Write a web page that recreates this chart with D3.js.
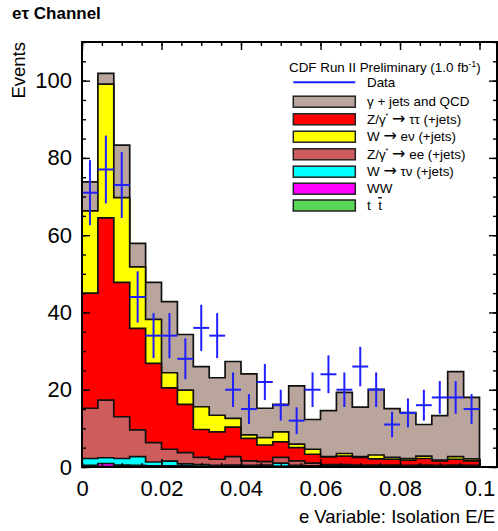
<!DOCTYPE html>
<html><head><meta charset="utf-8">
<script src="https://cdn.jsdelivr.net/npm/d3@7"></script>
<style>
html,body{margin:0;padding:0;background:#fff;}
svg{display:block;font-family:"Liberation Sans",Arial,Helvetica,sans-serif;}
</style></head>
<body><svg id="c" width="498" height="531"></svg>
<script>
// ---- data ----
const binEdges = [0,0.004,0.008,0.012,0.016,0.02,0.024,0.028,0.032,0.036,0.04,0.044,0.048,0.052,0.056,0.06,0.064,0.068,0.072,0.076,0.08,0.084,0.088,0.092,0.096,0.1];
const dataCounts = [71,77,73,44,34,34,28,36,34,20,15,22,16,12,20,24,20,26,20,11,14,16,18,18,15];
const ttbar   = [0.1,0.1,0.1,0.1,0.1,0.1,0.1,0.1,0.1,0.1,0.1,0.1,0.1,0.1,0.1,0.1,0.1,0.1,0.1,0.1,0.1,0.1,0.1,0.1,0.1];
const ww      = [0.3,0.8,0.4,0.3,0.2,0.2,0.2,0.1,0.1,0.1,0.1,0.1,0.1,0.1,0.1,0.1,0.1,0.1,0.1,0.1,0.1,0.1,0.1,0.1,0.1];
const wtaunu  = [1.8,1.5,1.7,2.3,1.0,1.2,0.5,0.4,0.2,0.3,0.2,0.3,0.8,0.2,0.1,0.1,0.1,0.1,0.1,0.1,0.1,0.1,0.1,0.1,0.1];
const zee     = [13.0,14.9,10.8,6.9,5.0,3.1,2.9,1.9,1.6,2.2,1.2,0.9,1.5,1.2,0.7,0.3,0.3,0.2,0.2,0.2,0.1,0.2,0.1,0.2,0.1];
const ztautau = [29.8,47.2,34.8,26.3,20.5,15.9,12.5,7.2,7.1,7.6,5.8,4.3,4.0,3.4,2.3,2.0,2.2,2.0,1.6,1.5,1.4,1.7,1.2,1.5,1.2];
const wenu    = [21.3,34.6,21.9,15.9,11.4,3.9,3.7,5.9,4.3,2.3,0.9,1.9,2.6,0.9,1.3,0.1,0.7,0.2,1.0,0.5,0.4,0.6,0.2,0.7,0.5];
const gammaQCD= [7.5,2.8,13.6,6.1,9.6,18.4,14.4,10.4,9.7,14.7,15.8,7.6,7.1,15.1,7.7,11.9,15.8,12.8,17.0,12.6,11.9,8.2,11.5,22.0,15.9];

const xMajorTicks = [0,0.02,0.04,0.06,0.08,0.1];
const xTickLabels = ["0","0.02","0.04","0.06","0.08","0.1"];
const yMajorTicks = [0,20,40,60,80,100];
const yTickLabels = ["0","20","40","60","80","100"];

const stackKeys   = ["ttbar","ww","wtaunu","zee","ztautau","wenu","gammaQCD"]; // bottom -> top
const stackSeries = {ttbar, ww, wtaunu, zee, ztautau, wenu, gammaQCD};
const stackColors = {ttbar:"#5ad65a", ww:"#ff00ff", wtaunu:"#00ffff", zee:"#cd5c5c", ztautau:"#ff0000", wenu:"#ffff00", gammaQCD:"#b9a59b"};

const legendTitle = "CDF Run II Preliminary (1.0 fb";
const legendKeys   = ["gammaQCD","ztautau","wenu","zee","wtaunu","ww","ttbar"];

// ---- layout ----
const L = 82, R = 497, T = 42, B = 467;
const svg = d3.select("#c");
const x = d3.scaleLinear().domain([0, 0.1044]).range([L, R]);
const y = d3.scaleLinear().domain([0, 110]).range([B, T]);

// stack
const rows = binEdges.slice(0, -1).map((e, i) => {
  const r = {i};
  stackKeys.forEach(k => r[k] = stackSeries[k][i]);
  return r;
});
const stacked = d3.stack().keys(stackKeys)(rows);

function stepPath(tops) {
  const p = d3.path();
  p.moveTo(x(binEdges[0]), y(0));
  tops.forEach((t, i) => {
    p.lineTo(x(binEdges[i]), y(t));
    p.lineTo(x(binEdges[i + 1]), y(t));
  });
  p.lineTo(x(binEdges[binEdges.length - 1]), y(0));
  p.closePath();
  return p.toString();
}

const gH = svg.append("g");
stacked.slice().reverse().forEach(layer => {
  gH.append("path")
    .attr("d", stepPath(layer.map(d => d[1])))
    .attr("fill", stackColors[layer.key])
    .attr("stroke", "#111")
    .attr("stroke-width", 1.7)
    .attr("stroke-linejoin", "miter");
});

// data points
const gD = svg.append("g").attr("stroke", "#1f1fff").attr("stroke-width", 2);
dataCounts.forEach((n, i) => {
  const xc = x((binEdges[i] + binEdges[i + 1]) / 2);
  const e = Math.sqrt(n);
  gD.append("line").attr("x1", x(binEdges[i])).attr("x2", x(binEdges[i + 1])).attr("y1", y(n)).attr("y2", y(n));
  gD.append("line").attr("x1", xc).attr("x2", xc).attr("y1", y(n + e)).attr("y2", y(n - e));
});

// axes
const xMinor = d3.range(0, 0.1041, 0.005).map(v => +v.toFixed(3));
const yMinor = d3.range(0, 111, 5);
function styleAxis(g) {
  g.select(".domain").remove();
  g.selectAll("line").attr("stroke", "#000").attr("stroke-width", 1.4);
}
svg.append("g").attr("transform", `translate(0,${B})`)
  .call(d3.axisBottom(x).tickValues(xMajorTicks).tickSize(-8).tickPadding(13)
    .tickFormat((d, i) => xTickLabels[i]))
  .call(styleAxis)
  .selectAll("text").attr("font-size", 22).attr("fill", "#000")
  .attr("font-family", "Liberation Sans, Arial, sans-serif");
svg.append("g").attr("transform", `translate(0,${B})`)
  .call(d3.axisBottom(x).tickValues(xMinor).tickSize(-4).tickFormat("")).call(styleAxis);
svg.append("g").attr("transform", `translate(0,${T})`)
  .call(d3.axisTop(x).tickValues(xMajorTicks).tickSize(-8).tickFormat("")).call(styleAxis);
svg.append("g").attr("transform", `translate(0,${T})`)
  .call(d3.axisTop(x).tickValues(xMinor).tickSize(-4).tickFormat("")).call(styleAxis);

svg.append("g").attr("transform", `translate(${L},0)`)
  .call(d3.axisLeft(y).tickValues(yMajorTicks).tickSize(-8).tickPadding(10)
    .tickFormat((d, i) => yTickLabels[i]))
  .call(styleAxis)
  .selectAll("text").attr("font-size", 22).attr("fill", "#000")
  .attr("font-family", "Liberation Sans, Arial, sans-serif");
svg.append("g").attr("transform", `translate(${L},0)`)
  .call(d3.axisLeft(y).tickValues(yMinor).tickSize(-4).tickFormat("")).call(styleAxis);
svg.append("g").attr("transform", `translate(${R},0)`)
  .call(d3.axisRight(y).tickValues(yMajorTicks).tickSize(-8).tickFormat("")).call(styleAxis);
svg.append("g").attr("transform", `translate(${R},0)`)
  .call(d3.axisRight(y).tickValues(yMinor).tickSize(-4).tickFormat("")).call(styleAxis);

// frame
svg.append("rect").attr("x", L).attr("y", T).attr("width", R - L).attr("height", B - T)
  .attr("fill", "none").attr("stroke", "#000").attr("stroke-width", 2);

// titles
svg.append("text").attr("x", 12).attr("y", 18.5).attr("font-size", 17).attr("font-weight", "bold")
  .text("eτ Channel");
svg.append("text").attr("transform", "translate(25,42) rotate(-90)").attr("text-anchor", "end")
  .attr("font-size", 18.5).text("Events");
svg.append("text").attr("x", 495).attr("y", 523).attr("text-anchor", "end")
  .attr("font-size", 18.5).text("e Variable: Isolation E/E");

// legend
const lg = svg.append("g").attr("font-size", 13.4);
const lt = lg.append("text").attr("x", 289).attr("y", 72);
lt.append("tspan").text(legendTitle);
lt.append("tspan").attr("dy", -5).attr("font-size", 9).text("-1");
lt.append("tspan").attr("dy", 5).text(")");

const rowY = [82.3, 101.7, 119.3, 136.7, 154.3, 171.7, 188.7, 205.5];
const sx = 293.3, sw = 62, sh = 11, tx = 367;
lg.append("line").attr("x1", sx).attr("x2", sx + sw).attr("y1", rowY[0]).attr("y2", rowY[0])
  .attr("stroke", "#1f1fff").attr("stroke-width", 2);
lg.append("text").attr("x", tx).attr("y", rowY[0] + 4.6).text("Data");

function arrow(t, dy) {
  t.append("tspan").attr("dy", dy || 0).text("\u00a0");
  t.append("tspan").attr("font-family", "DejaVu Sans").attr("font-size", 16).text("→");
  t.append("tspan").text("\u00a0");
}
legendKeys.forEach((k, i) => {
  const yc = rowY[i + 1];
  lg.append("rect").attr("x", sx).attr("y", yc - sh / 2).attr("width", sw).attr("height", sh)
    .attr("fill", stackColors[k]).attr("stroke", "#222").attr("stroke-width", 1.5);
  const t = lg.append("text").attr("x", tx).attr("y", yc + 4.6);
  if (k === "gammaQCD") t.text("γ + jets and QCD");
  else if (k === "ztautau" || k === "zee") {
    t.append("tspan").text("Z/γ");
    t.append("tspan").attr("dy", -6).attr("font-size", 7).text("*");
    arrow(t, 6);
    t.append("tspan").text(k === "ztautau" ? "ττ (+jets)" : "ee (+jets)");
  }
  else if (k === "wenu") { t.append("tspan").text("W"); arrow(t); t.append("tspan").text("eν (+jets)"); }
  else if (k === "wtaunu") { t.append("tspan").text("W"); arrow(t); t.append("tspan").text("τν (+jets)"); }
  else if (k === "ww") t.text("WW");
  else {
    t.append("tspan").text("t\u00a0\u00a0");
    t.append("tspan").attr("text-decoration", "overline").text("t");
  }
});
</script></body></html>
